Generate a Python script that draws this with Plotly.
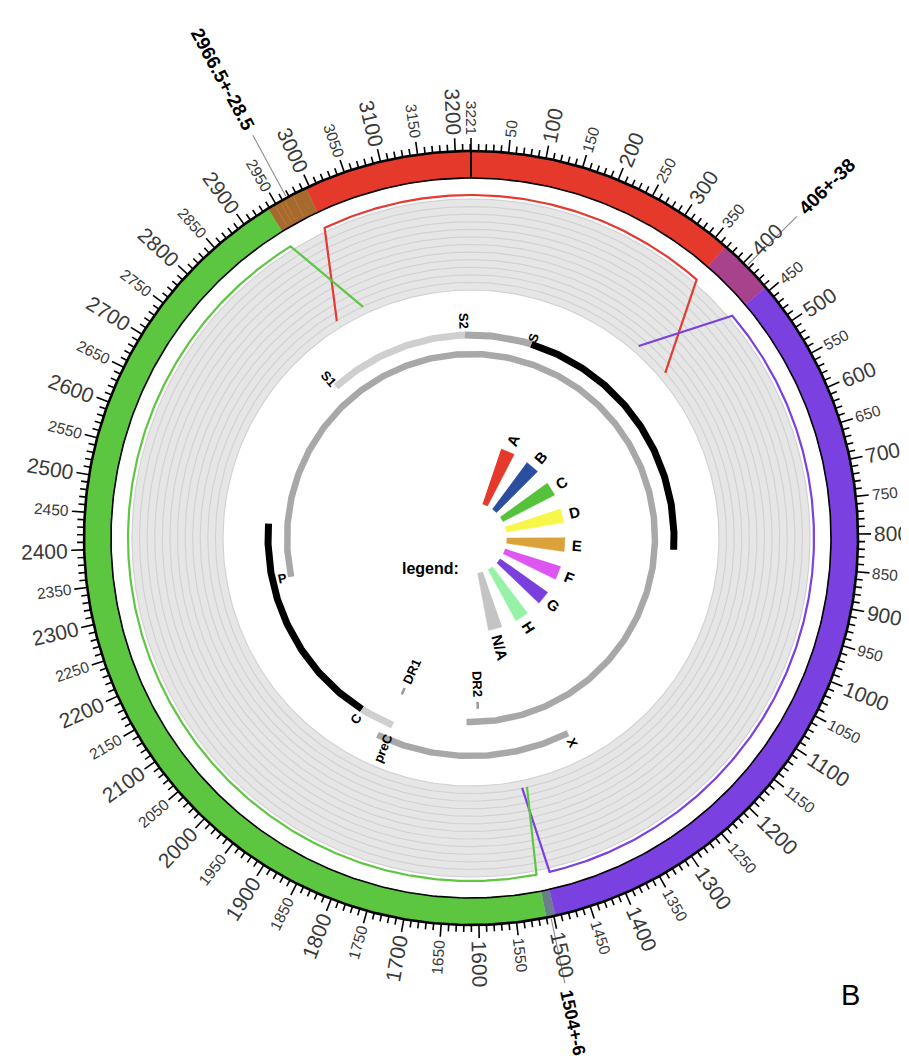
import math
import numpy as np
import plotly.graph_objects as go

# ---------------- data ----------------
GENOME_LENGTH = 3221

# outer ring: genotype segments (nt)
ring_names = ["A", "A/G", "G", "G/C", "C", "C/A"]
ring_start = [2995, 368, 444, 1498, 1510, 2938]
ring_end = [368, 444, 1498, 1510, 2938, 2995]

# breakpoints (position, uncertainty label)
bp_pos = [2966.5, 406, 1504]
bp_text = ["2966.5+-28.5", "406+-38", "1504+-6"]

# genotype support lines (position nt, support 0..1)
lineA_pos = [2937, 2995, 368, 444]
lineA_val = [0, 1, 1, 0]
lineG_pos = [368, 444, 1492, 1507]
lineG_val = [0, 1, 1, 0]
lineC_pos = [1497, 1512, 2937, 2997]
lineC_val = [0, 1, 1, 0]

# genes / ORFs
gene_names = ["S1", "S2", "S", "P", "C", "preC", "X"]
gene_start = [2848, 3205, 155, 2307, 1901, 1814, 1374]
gene_end = [3205, 155, 835, 1623, 2452, 1901, 1838]
gene_track = [1, 1, 1, 0, 1, 1, 2]

# direct repeats
dr_names = ["DR1", "DR2"]
dr_pos = [1824, 1590]

# legend
legend_labels = ["A", "B", "C", "D", "E", "F", "G", "H", "N/A"]

# axis tick labels
tick_label_pos = list(range(50, 3201, 50))

# ---------------- styles ----------------
ring_colors = {"A": "#e5392c", "A/G": "#a8428c", "G": "#7a40e0",
               "G/C": "#6b7e8c", "C": "#5dc641", "C/A": "#a66a2e"}
line_colors = {"A": "#e43a33", "G": "#7b40e0", "C": "#5ec643"}
legend_colors = ["#e5392c", "#2b4f9e", "#55c23d", "#f7f74a", "#dba13a",
                 "#df55f2", "#7a3fdc", "#95f2a6", "#c4c4c4"]
gene_colors = {"S1": "#cfcfcf", "S2": "#a8a8a8", "S": "#000000", "P": "#a8a8a8",
               "C": "#000000", "preC": "#cfcfcf", "X": "#a8a8a8"}
gene_label_r = {"S1": 214, "S2": 217, "S": 210, "P": 193, "C": 214, "preC": 228, "X": 229}

W, H = 909, 1059
CX, CY = 463, 530
R_OUT, R_IN = 387, 360
R_LMAX, R_LMIN = 343, 255
R_GOUT, R_GIN = 339, 248
TRACK_R = [184, 203, 218]
FONT = "Liberation Sans, Arial, sans-serif"

L = GENOME_LENGTH

CHAR_W = {'0': .556, '1': .556, '2': .556, '3': .556, '4': .556, '5': .556, '6': .556,
          '7': .556, '8': .556, '9': .556, '.': .278, '+': .584, '-': .333, '/': .278,
          'S': .667, 'P': .667, 'C': .722, 'X': .667, 'D': .722, 'R': .722, 'A': .722,
          'B': .722, 'E': .667, 'F': .611, 'G': .778, 'H': .722, 'N': .722,
          'p': .611, 'r': .389, 'e': .556, ' ': .278}


def text_w(s, size):
    return sum(CHAR_W.get(c, .6) for c in s) * size


def xy(pos, r):
    t = 2 * math.pi * np.asarray(pos, dtype=float) / L
    return r * np.sin(t), r * np.cos(t)


def deg(pos):
    return (pos / L * 360.0) % 360.0


def radial_angle(pos):
    th = deg(pos)
    if 0 < th <= 180:
        a = th - 90
    else:
        a = th - 270
    while a > 180:
        a -= 360
    while a <= -180:
        a += 360
    return a


def unwrap(ps):
    out = [ps[0]]
    for p in ps[1:]:
        while p < out[-1]:
            p += L
        out.append(p)
    return out


fig = go.Figure()
annotations = []


def add_poly(x, y, color, lw=0.6):
    fig.add_trace(go.Scatter(x=list(x), y=list(y), mode="lines", fill="toself",
                             fillcolor=color, line=dict(color=color, width=lw),
                             hoverinfo="skip", showlegend=False))


def annulus(r1, r2, color):
    p = np.linspace(0, L, 400)
    xo, yo = xy(p, r2)
    xi, yi = xy(p[::-1], r1)
    add_poly(np.r_[xo, xi], np.r_[yo, yi], color, lw=0)


def band(s, e, r1, r2, color, lw=0.6):
    s, e = unwrap([s, e])
    n = max(4, int((e - s) / 4))
    p = np.linspace(s, e, n)
    xo, yo = xy(p, r2)
    xi, yi = xy(p[::-1], r1)
    add_poly(np.r_[xo, xi], np.r_[yo, yi], color, lw)


def circle_line(r, color, width):
    p = np.linspace(0, L, 500)
    x, y = xy(p, r)
    fig.add_trace(go.Scatter(x=x, y=y, mode="lines", line=dict(color=color, width=width),
                             hoverinfo="skip", showlegend=False))


def radial_label(pos, r_center, text, size, color="#000", bold=False):
    x, y = xy(pos, r_center)
    t = f"<b>{text}</b>" if bold else text
    annotations.append(dict(x=float(x), y=float(y), xref="x", yref="y", text=t,
                            showarrow=False, textangle=radial_angle(pos),
                            xanchor="center", yanchor="middle", borderpad=0,
                            font=dict(family=FONT, size=size, color=color)))


# ---- gray track region ----
annulus(R_GIN, R_GOUT, "#e6e6e6")
gx, gy = [], []
nlines = 13
for k in range(nlines):
    r = R_GIN + k * (R_GOUT - R_GIN) / (nlines - 1)
    p = np.linspace(0, L, 400)
    x, y = xy(p, r)
    gx += list(x) + [None]
    gy += list(y) + [None]
fig.add_trace(go.Scatter(x=gx, y=gy, mode="lines", line=dict(color="#d2d2d2", width=1.2),
                         hoverinfo="skip", showlegend=False))

# ---- genotype support lines ----
for key, ps, vs in [("A", lineA_pos, lineA_val), ("G", lineG_pos, lineG_val),
                    ("C", lineC_pos, lineC_val)]:
    ps = unwrap(ps)
    xs, ys = [], []
    for i in range(len(ps) - 1):
        r0 = R_LMIN + vs[i] * (R_LMAX - R_LMIN)
        r1 = R_LMIN + vs[i + 1] * (R_LMAX - R_LMIN)
        if vs[i] == vs[i + 1]:
            p = np.linspace(ps[i], ps[i + 1], max(3, int((ps[i + 1] - ps[i]) / 4)))
            x, y = xy(p, r0)
        else:
            x0, y0 = xy(ps[i], r0)
            x1, y1 = xy(ps[i + 1], r1)
            x, y = np.array([x0, x1]), np.array([y0, y1])
        xs += list(x)
        ys += list(y)
    fig.add_trace(go.Scatter(x=xs, y=ys, mode="lines",
                             line=dict(color=line_colors[key], width=2.2),
                             hoverinfo="skip", showlegend=False))

# ---- outer genotype ring ----
for nm, s, e in zip(ring_names, ring_start, ring_end):
    band(s, e, R_IN, R_OUT, ring_colors[nm])
# faint stripes inside the overlap zone near the 2966.5 breakpoint
sx, sy = [], []
for p in [2948, 2956, 2962, 2975]:
    a, b = xy(p, R_IN + 3)
    c, d = xy(p, R_OUT - 3)
    sx += [a, c, None]
    sy += [b, d, None]
fig.add_trace(go.Scatter(x=sx, y=sy, mode="lines", line=dict(color="#c07a35", width=1),
                         hoverinfo="skip", showlegend=False))
circle_line(R_OUT, "#000", 2.6)
circle_line(R_IN, "#000", 1.6)
x0, y0 = xy(0, R_IN)
x1, y1 = xy(0, R_OUT)
fig.add_trace(go.Scatter(x=[x0, x1], y=[y0, y1], mode="lines", line=dict(color="#000", width=2),
                         hoverinfo="skip", showlegend=False))

# ---- ticks ----
tx, ty = [], []
for p in range(0, L, 10):
    r2 = R_OUT + (13 if p % 50 == 0 else 7)
    a, b = xy(p, R_OUT)
    c, d = xy(p, r2)
    tx += [a, c, None]
    ty += [b, d, None]
fig.add_trace(go.Scatter(x=tx, y=ty, mode="lines", line=dict(color="#000", width=1.6),
                         hoverinfo="skip", showlegend=False))

for p in [0] + tick_label_pos:
    txt = str(L) if p == 0 else str(p)
    size = 21 if (p % 100 == 0 and p != 0) else 15.5
    radial_label(p, R_OUT + 16 + text_w(txt, size) / 2, txt, size, color="#3a3a3a")

# ---- breakpoint labels ----
lead_end = [458, 458, 455]
bp_size = [19, 19, 18]
for p, t, le, fs in zip(bp_pos, bp_text, lead_end, bp_size):
    a, b = xy(p, R_OUT + 2)
    c, d = xy(p, le)
    fig.add_trace(go.Scatter(x=[a, c], y=[b, d], mode="lines",
                             line=dict(color="#8a8a8a", width=1.1),
                             hoverinfo="skip", showlegend=False))
    radial_label(p, le + 7 + text_w(t, fs) / 2, t, fs, bold=True)

# ---- genes ----
for nm, s, e, tr in zip(gene_names, gene_start, gene_end, gene_track):
    s2, e2 = unwrap([s, e])
    p = np.linspace(s2, e2, max(3, int((e2 - s2) / 4)))
    x, y = xy(p, TRACK_R[tr])
    fig.add_trace(go.Scatter(x=x, y=y, mode="lines",
                             line=dict(color=gene_colors[nm], width=7 if tr == 1 else 6.5),
                             hoverinfo="skip", showlegend=False))
    radial_label(s, gene_label_r[nm], nm, 13, bold=True)

# ---- direct repeats ----
for nm, p in zip(dr_names, dr_pos):
    a, b = xy(p, 164)
    c, d = xy(p, 171)
    fig.add_trace(go.Scatter(x=[a, c], y=[b, d], mode="lines",
                             line=dict(color="#9a9a9a", width=2.5),
                             hoverinfo="skip", showlegend=False))
    radial_label(p, 159 - text_w(nm, 13) / 2, nm, 13, bold=True)

# ---- legend fan ----
for i, (lab, col) in enumerate(zip(legend_labels, legend_colors)):
    ang = 23 + 17.75 * i
    c = ang / 360 * L
    hw = 4.3 / 360 * L
    p = np.linspace(c - hw, c + hw, 8)
    xo, yo = xy(p, 94)
    xi, yi = xy(p[::-1], 36)
    add_poly(np.r_[xo, xi], np.r_[yo, yi], col, lw=0.5)
    radial_label(c, 101 + text_w(lab, 15) / 2, lab, 15, bold=True)

annotations.append(dict(x=-41, y=-30, xref="x", yref="y", text="<b>legend:</b>",
                        showarrow=False, xanchor="center", yanchor="middle",
                        font=dict(family=FONT, size=16, color="#000")))
annotations.append(dict(x=379, y=-457, xref="x", yref="y", text="B",
                        showarrow=False, xanchor="center", yanchor="middle",
                        font=dict(family=FONT, size=29, color="#000")))

fig.update_layout(
    width=W, height=H, margin=dict(l=0, r=0, t=0, b=0),
    paper_bgcolor="white", plot_bgcolor="white",
    xaxis=dict(range=[-CX, W - CX], visible=False, fixedrange=True),
    yaxis=dict(range=[CY - H, CY], visible=False, fixedrange=True,
               scaleanchor="x", scaleratio=1),
    annotations=annotations, showlegend=False,
)
fig.write_html("out.html")
